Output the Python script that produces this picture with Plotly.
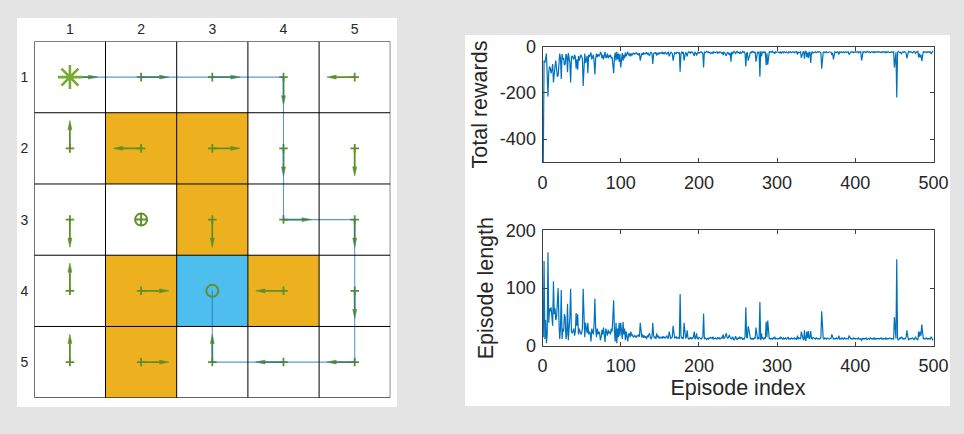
import plotly.graph_objects as go

W, H = 964, 434
BG = "#e4e4e4"
GREEN = "#5f8f28"
STAR = "#77ac30"
ORANGE = "#edb120"
CYAN = "#4dbeee"
LINE = "#0072bd"
TXT = "#262626"

# Grid world
rows = [1, 2, 3, 4, 5]
cols = [1, 2, 3, 4, 5]
policy = [
    ["R", "R", "R", "D", "L"],
    ["U", "L", "R", "D", "D"],
    ["D", "", "D", "R", "D"],
    ["U", "R", "", "L", "D"],
    ["U", "R", "U", "L", "L"],
]
orange_cells = [(2, 2), (2, 3), (3, 3), (4, 2), (4, 4), (5, 2)]
cyan_cells = [(4, 3)]
path_cols = [1, 4, 4, 5, 5, 3, 3]
path_rows = [1, 1, 3, 3, 5, 5, 4]
start = (1, 1)
goal = (4, 3)
other = (3, 2)

# Episode statistics, read per episode from the picture
episode_length = [
    15,147,12,45,5,20,162,40,65,60,
    67,50,35,112,55,65,45,50,98,100,
    45,12,30,97,12,30,25,55,50,12,
    20,73,10,25,50,99,25,22,25,30,
    18,25,57,35,55,20,30,25,20,22,
    30,99,25,15,40,30,22,40,20,25,
    22,8,30,25,20,38,82,30,15,30,
    20,25,22,10,15,28,20,32,22,7,
    30,25,18,28,22,25,20,30,25,50,
    79,25,8,40,5,30,15,40,18,40,
    25,12,42,20,30,10,25,18,8,20,
    22,15,25,18,20,15,17,18,16,15,
    18,17,20,16,40,18,15,20,14,18,
    15,16,12,18,15,20,22,14,12,16,
    40,18,14,16,12,22,15,18,13,16,
    14,15,13,17,14,16,13,15,18,14,
    13,25,15,13,14,16,35,14,13,15,
    16,13,14,15,12,90,18,13,15,12,
    40,15,13,16,27,14,12,13,15,12,
    14,13,16,25,12,14,22,13,12,15,
    14,13,12,14,16,56,12,14,13,11,
    13,12,14,13,15,14,13,16,12,13,
    14,13,12,15,13,14,12,13,15,14,
    20,13,14,18,22,15,13,16,19,14,
    13,12,16,14,10,13,17,12,11,14,
    13,16,12,15,14,11,13,12,16,67,
    15,14,34,28,16,12,14,11,13,12,
    14,13,32,13,12,14,12,76,10,22,
    13,14,12,14,13,42,15,44,16,12,
    13,12,13,12,14,13,16,12,13,12,
    12,13,14,12,16,13,12,14,12,13,
    14,12,13,15,12,13,12,14,13,12,
    13,14,12,13,11,18,12,14,13,12,
    25,15,13,10,27,12,9,25,14,26,
    12,14,26,13,12,15,14,13,12,14,
    13,12,13,12,13,14,60,16,13,12,
    14,13,12,14,13,12,12,13,13,20,
    14,12,13,12,13,14,12,13,18,12,
    13,12,14,13,12,14,13,12,13,12,
    12,18,14,13,12,13,12,14,13,12,
    13,12,12,14,12,13,12,10,14,12,
    13,12,13,14,11,12,13,12,14,13,
    12,13,12,14,12,13,12,13,12,13,
    12,13,14,12,13,12,13,12,14,12,
    13,12,13,14,13,12,13,13,12,50,
    20,13,150,14,10,12,14,13,16,14,
    12,13,12,13,15,27,13,10,12,13,
    12,13,14,13,11,12,16,13,12,10,
    25,16,25,18,37,14,12,13,12,13,
    14,12,13,12,13,12,16,14,10,12,
]
total_reward = [
    -500,-60,-70,-55,-30,-120,-215,-110,-85,-95,
    -115,-100,-75,-155,-90,-85,-60,-95,-130,-125,
    -70,-30,-50,-140,-32,-55,-48,-80,-75,-32,
    -40,-110,-28,-50,-70,-155,-45,-40,-48,-55,
    -35,-45,-95,-55,-100,-40,-60,-48,-35,-42,
    -50,-170,-45,-30,-70,-55,-40,-115,-35,-45,
    -38,-25,-55,-45,-35,-65,-120,-50,-30,-45,
    -32,-42,-38,-25,-28,-50,-35,-55,-38,-22,
    -48,-45,-30,-50,-38,-45,-35,-50,-45,-80,
    -115,-45,-25,-60,-22,-55,-30,-65,-32,-90,
    -42,-28,-60,-35,-50,-25,-42,-32,-22,-35,
    -38,-28,-42,-32,-35,-28,-30,-32,-28,-26,
    -32,-30,-35,-28,-60,-32,-28,-35,-25,-32,
    -28,-30,-24,-32,-28,-35,-38,-26,-24,-30,
    -75,-32,-26,-28,-24,-38,-28,-32,-25,-30,
    -26,-28,-24,-32,-26,-30,-24,-28,-32,-26,
    -24,-42,-28,-24,-26,-30,-60,-26,-24,-28,
    -30,-24,-26,-28,-24,-108,-32,-24,-28,-22,
    -60,-28,-24,-30,-42,-26,-22,-24,-28,-22,
    -26,-24,-30,-40,-22,-26,-38,-24,-22,-28,
    -26,-24,-22,-26,-30,-90,-22,-26,-24,-20,
    -24,-22,-26,-24,-30,-26,-24,-30,-22,-24,
    -26,-24,-22,-28,-24,-26,-22,-24,-28,-26,
    -36,-24,-26,-34,-40,-28,-24,-30,-36,-26,
    -65,-22,-30,-26,-20,-24,-32,-22,-20,-26,
    -24,-30,-22,-28,-26,-20,-24,-22,-30,-85,
    -28,-26,-60,-48,-30,-22,-26,-20,-24,-22,
    -26,-24,-65,-24,-22,-26,-22,-130,-20,-42,
    -24,-26,-22,-26,-24,-80,-28,-78,-30,-22,
    -24,-22,-24,-20,-26,-24,-30,-22,-24,-22,
    -22,-24,-26,-22,-30,-24,-22,-26,-22,-24,
    -26,-22,-24,-28,-22,-24,-22,-26,-24,-22,
    -24,-26,-22,-24,-20,-34,-22,-26,-24,-22,
    -48,-28,-24,-20,-52,-22,-18,-45,-26,-48,
    -22,-26,-70,-24,-22,-28,-26,-24,-22,-26,
    -24,-22,-24,-22,-24,-26,-95,-30,-24,-22,
    -26,-24,-22,-26,-24,-22,-22,-24,-24,-36,
    -26,-55,-24,-22,-24,-26,-22,-24,-34,-22,
    -24,-22,-26,-24,-22,-26,-24,-22,-24,-22,
    -22,-34,-26,-24,-22,-24,-22,-26,-24,-22,
    -24,-22,-22,-26,-22,-24,-22,-60,-26,-22,
    -24,-22,-24,-26,-20,-22,-24,-22,-26,-24,
    -22,-24,-22,-26,-22,-24,-22,-24,-22,-24,
    -22,-24,-26,-22,-24,-22,-24,-22,-26,-22,
    -24,-22,-24,-26,-24,-22,-24,-24,-22,-90,
    -38,-24,-220,-26,-20,-22,-26,-24,-30,-26,
    -22,-24,-22,-24,-28,-50,-24,-20,-22,-24,
    -22,-24,-26,-24,-20,-22,-30,-24,-22,-20,
    -46,-30,-46,-34,-62,-26,-22,-24,-22,-24,
    -26,-22,-24,-22,-24,-22,-30,-26,-20,-22,
]
episodes = list(range(1, len(episode_length) + 1))
x_ticks = [0, 100, 200, 300, 400, 500]
reward_ticks = [0, -200, -400]
reward_labels = ["0", "-200", "-400"]
length_ticks = [0, 100, 200]


def px(x):
    return x / W


def py(y):
    return 1 - y / H


fig = go.Figure()
shapes = [
    dict(type="rect", xref="paper", yref="paper", x0=px(17), x1=px(397), y0=py(407), y1=py(18),
         fillcolor="white", line_width=0, layer="below"),
    dict(type="rect", xref="paper", yref="paper", x0=px(465), x1=px(950), y0=py(406), y1=py(35),
         fillcolor="white", line_width=0, layer="below"),
]
for cells, colr in ((orange_cells, ORANGE), (cyan_cells, CYAN)):
    for r, c in cells:
        shapes.append(dict(type="rect", xref="x", yref="y", x0=c - .5, x1=c + .5, y0=r - .5, y1=r + .5,
                           fillcolor=colr, line_width=0, layer="below"))
for k in range(6):
    v = k + .5
    shapes.append(dict(type="line", xref="x", yref="y", x0=v, x1=v, y0=.5, y1=5.5,
                       line=dict(color="black", width=1), layer="above"))
    shapes.append(dict(type="line", xref="x", yref="y", x0=.5, x1=5.5, y0=v, y1=v,
                       line=dict(color="black", width=1), layer="above"))

DIRS = {"R": (1, 0), "L": (-1, 0), "U": (0, -1), "D": (0, 1)}
L, T, HL, HW = .39, .06, .13, .027
shaft_x, shaft_y, tick_x, tick_y, head_x, head_y = [], [], [], [], [], []
for r, row in zip(rows, policy):
    for c, d in zip(cols, row):
        if not d:
            continue
        dx, dy = DIRS[d]
        shaft_x += [c, c + dx * (L - HL), None]
        shaft_y += [r, r + dy * (L - HL), None]
        tick_x += [c - dy * T, c + dy * T, None, c - dx * T, c + dx * T, None]
        tick_y += [r - dx * T, r + dx * T, None, r - dy * T, r + dy * T, None]
        bx, by = c + dx * (L - HL), r + dy * (L - HL)
        head_x += [bx - dy * HW, c + dx * L, bx + dy * HW, bx - dy * HW, None]
        head_y += [by - dx * HW, r + dy * L, by + dx * HW, by - dx * HW, None]

common = dict(xaxis="x", yaxis="y", showlegend=False, hoverinfo="skip")
fig.add_trace(go.Scatter(x=shaft_x, y=shaft_y, mode="lines", line=dict(color=GREEN, width=1.8), **common))
fig.add_trace(go.Scatter(x=tick_x, y=tick_y, mode="lines", line=dict(color=GREEN, width=1.8), **common))
fig.add_trace(go.Scatter(x=head_x, y=head_y, mode="lines", fill="toself", fillcolor=GREEN,
                         line=dict(color=GREEN, width=.6), **common))
fig.add_trace(go.Scatter(x=path_cols, y=path_rows, mode="lines", line=dict(color="rgba(30,115,190,0.72)", width=1.1), **common))
fig.add_trace(go.Scatter(x=[start[1]], y=[start[0]], mode="markers",
                         marker=dict(symbol="asterisk-open", size=20, color=STAR, line=dict(color=STAR, width=2.6)), **common))
fig.add_trace(go.Scatter(x=[goal[1]], y=[goal[0]], mode="markers",
                         marker=dict(symbol="circle-open", size=12, color=GREEN, line=dict(color=GREEN, width=2)), **common))
fig.add_trace(go.Scatter(x=[other[1]], y=[other[0]], mode="markers",
                         marker=dict(symbol="circle-cross-open", size=12, color=GREEN, line=dict(color=GREEN, width=2)), **common))

fig.add_trace(go.Scatter(x=episodes, y=total_reward, mode="lines", line=dict(color=LINE, width=1.2), xaxis="x2", yaxis="y2",
                         showlegend=False))
fig.add_trace(go.Scatter(x=episodes, y=episode_length, mode="lines", line=dict(color=LINE, width=1.2), xaxis="x3", yaxis="y3",
                         showlegend=False))

FONT = "Liberation Sans"
grid_font = dict(family=FONT, size=14, color=TXT)
num_font = dict(family=FONT, size=18, color=TXT)
title_font = dict(family=FONT, size=21.5, color=TXT)
frame = dict(showgrid=False, zeroline=False, showline=True, linecolor="#404040", linewidth=1, mirror="allticks",
             ticks="inside", ticklen=4, tickcolor="#404040", tickwidth=1, tickfont=num_font, automargin=False)

fig.update_layout(
    width=W, height=H, margin=dict(l=0, r=0, t=0, b=0), paper_bgcolor=BG, plot_bgcolor="rgba(0,0,0,0)",
    showlegend=False, shapes=shapes, font=dict(family=FONT),
    xaxis=dict(domain=[px(34.3), px(390.3)], range=[.5, 5.5], anchor="y", side="top", tickvals=cols, ticks="",
               showgrid=False, zeroline=False, showline=False, tickfont=grid_font, ticklabelstandoff=4, automargin=False),
    yaxis=dict(domain=[py(397.7), py(41.5)], range=[5.5, .5], anchor="x", tickvals=rows, ticks="",
               showgrid=False, zeroline=False, showline=False, tickfont=grid_font, ticklabelstandoff=5, automargin=False),
    xaxis2=dict(domain=[px(542.5), px(933.5)], range=[0, 500], anchor="y2", tickvals=x_ticks, ticklabelstandoff=4, **frame),
    yaxis2=dict(domain=[py(162.3), py(46.7)], range=[-500, 0], anchor="x2", tickvals=reward_ticks, ticktext=reward_labels,
                ticklabelstandoff=2, title=dict(text="Total rewards", font=title_font, standoff=6), **frame),
    xaxis3=dict(domain=[px(542.5), px(933.5)], range=[0, 500], anchor="y3", tickvals=x_ticks, ticklabelstandoff=3,
                title=dict(text="Episode index", font=title_font, standoff=4), **frame),
    yaxis3=dict(domain=[py(346), py(230.3)], range=[0, 200], anchor="x3", tickvals=length_ticks, ticklabelstandoff=2,
                title=dict(text="Episode length", font=title_font, standoff=6), **frame),
)
fig.write_html("out.html", config={"displayModeBar": False}, post_script="document.body.style.margin='0';")
